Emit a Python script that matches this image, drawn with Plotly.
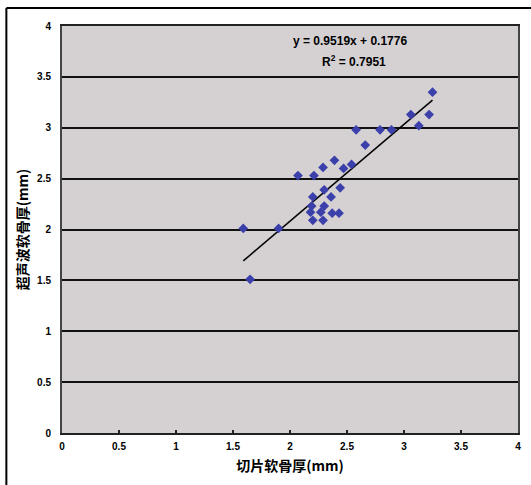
import plotly.graph_objects as go

# Data (x: 切片软骨厚, y: 超声波软骨厚), mm
x_vals = [3.25, 3.06, 3.22, 3.13, 2.58, 2.79, 2.89, 2.66, 2.39, 2.54,
          2.29, 2.47, 2.07, 2.21, 2.44, 2.30, 2.36, 2.20, 2.19, 2.30,
          2.18, 2.27, 2.37, 2.43, 2.20, 2.29, 1.59, 1.90, 1.65]
y_vals = [3.35, 3.13, 3.13, 3.02, 2.98, 2.98, 2.98, 2.83, 2.68, 2.64,
          2.61, 2.60, 2.53, 2.53, 2.41, 2.39, 2.32, 2.32, 2.23, 2.23,
          2.17, 2.17, 2.16, 2.16, 2.09, 2.09, 2.01, 2.01, 1.51]

slope = 0.9519
intercept = 0.1776
r2 = 0.7951

tick_vals = [0, 0.5, 1, 1.5, 2, 2.5, 3, 3.5, 4]
tick_text = ["0", "0.5", "1", "1.5", "2", "2.5", "3", "3.5", "4"]

x_title = "切片软骨厚(mm)"
y_title = "超声波软骨厚(mm)"

tx = [min(x_vals), max(x_vals)]
ty = [slope * v + intercept for v in tx]

fig = go.Figure()
fig.add_trace(go.Scatter(
    x=tx, y=ty, mode="lines",
    line=dict(color="black", width=1.5),
    hoverinfo="skip", showlegend=False))
fig.add_trace(go.Scatter(
    x=x_vals, y=y_vals, mode="markers",
    marker=dict(symbol="diamond", size=7.5, color="#3b40aa"),
    showlegend=False))

tick_font = dict(family="Liberation Sans, Arial, sans-serif", size=10, color="black", weight="bold")
title_font = dict(family="Noto Sans CJK SC, sans-serif", size=14, color="black", weight="bold")

fx0 = -56 / 459
fy1 = 425 / 407

fig.update_layout(
    width=531, height=485,
    margin=dict(l=62, r=10, t=26, b=52),
    paper_bgcolor="white",
    plot_bgcolor="#d5d1d3",
    xaxis=dict(
        range=[0, 4], tickvals=tick_vals, ticktext=tick_text,
        showgrid=False, zeroline=False,
        showline=True, linecolor="#222", linewidth=2, mirror=True,
        ticks="inside", ticklen=3, tickwidth=2, tickcolor="#222",
        tickfont=tick_font, ticklabelstandoff=3,
        title=dict(text=x_title, font=title_font, standoff=10),
    ),
    yaxis=dict(
        range=[0, 4], tickvals=tick_vals, ticktext=tick_text,
        showgrid=True, gridcolor="#111", gridwidth=2.2, zeroline=False,
        showline=True, linecolor="#444", linewidth=2, mirror=True,
        ticks="", tickfont=tick_font, ticklabelstandoff=7,
        title=dict(text=y_title, font=title_font, standoff=5),
    ),
    annotations=[
        dict(xref="paper", yref="paper", x=(352 - 62) / 459, y=(433 - 41) / 407,
             text="<b>y = %.4fx + %.4f</b>" % (slope, intercept), showarrow=False,
             font=dict(family="Liberation Sans, Arial, sans-serif", size=12, color="black"),
             xanchor="center", yanchor="middle"),
        dict(xref="paper", yref="paper", x=(356 - 62) / 459, y=(433 - 61) / 407,
             text="<b>R<sup>2</sup> = %.4f</b>" % r2, showarrow=False,
             font=dict(family="Liberation Sans, Arial, sans-serif", size=12, color="black"),
             xanchor="center", yanchor="middle"),
    ],
    shapes=[
        dict(type="line", xref="paper", yref="paper",
             x0=fx0, x1=fx0, y0=-0.2, y1=fy1,
             line=dict(color="black", width=2), layer="below"),
        dict(type="line", xref="paper", yref="paper",
             x0=fx0, x1=1.1, y0=fy1, y1=fy1,
             line=dict(color="black", width=2), layer="below"),
    ],
)

fig.write_html("out.html", config={"displayModeBar": False},
               post_script="document.body.style.margin='0px';document.body.style.overflow='hidden';")
